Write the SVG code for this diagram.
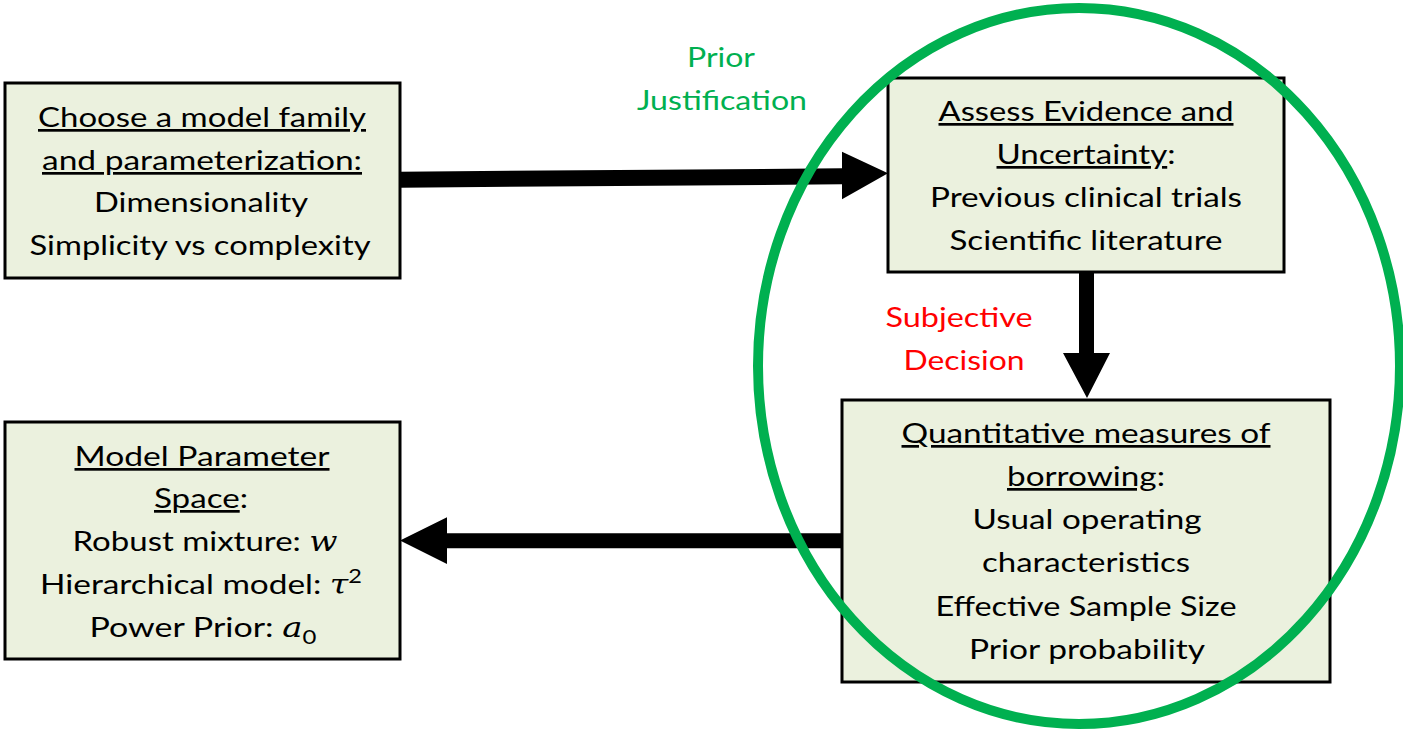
<svg xmlns="http://www.w3.org/2000/svg" width="1403" height="730" viewBox="0 0 1403 730">
<style>
.box{fill:#EBF1DE;stroke:#000;stroke-width:3}
.t{font-family:Lato,"Open Sans","Liberation Sans",sans-serif;font-size:27px;fill:#000;text-anchor:middle}
.u{text-decoration:underline}
.m{font-family:"DejaVu Serif","Liberation Serif",serif;font-style:italic}
.arr{fill:#000}
.g{fill:#00B050}
.r{fill:#FF0000}
</style>
<rect width="1403" height="730" fill="#fff"/>
<g id="connectors">
<polygon class="arr" points="400,171.7 842,168.3 842,151.7 888,173.3 842,199.3 842,184.3 400,187.7"/>
<polygon class="arr" points="1079,272 1094,272 1094,353 1110,353 1087,398 1063,353 1079,353"/>
<polygon class="arr" points="842,533.3 447,533.3 447,517.3 400,540.5 447,564 447,548.3 842,548.3"/>
</g>
<g id="node-choose">
<rect class="box" x="5" y="83" width="395" height="195"/>
<text class="t u" x="202" y="127" textLength="328" lengthAdjust="spacingAndGlyphs">Choose a model family</text>
<text class="t u" x="202" y="170" textLength="320" lengthAdjust="spacingAndGlyphs">and parameterization:</text>
<text class="t" x="201" y="212" textLength="214" lengthAdjust="spacingAndGlyphs">Dimensionality</text>
<text class="t" x="200" y="255" textLength="341" lengthAdjust="spacingAndGlyphs">Simplicity vs complexity</text>
</g>
<g id="node-assess">
<rect class="box" x="888" y="78" width="396" height="194"/>
<text class="t" x="1086" y="121" textLength="295" lengthAdjust="spacingAndGlyphs"><tspan class="u">Assess Evidence and</tspan></text>
<text class="t" x="1086" y="164" textLength="179" lengthAdjust="spacingAndGlyphs"><tspan class="u">Uncertainty</tspan>:</text>
<text class="t" x="1086" y="207" textLength="312" lengthAdjust="spacingAndGlyphs">Previous clinical trials</text>
<text class="t" x="1086" y="250" textLength="273" lengthAdjust="spacingAndGlyphs">Scientific literature</text>
</g>
<g id="node-quant">
<rect class="box" x="842" y="400" width="488" height="282"/>
<text class="t" x="1086" y="443" textLength="369" lengthAdjust="spacingAndGlyphs"><tspan class="u">Quantitative measures of</tspan></text>
<text class="t" x="1086" y="486" textLength="158" lengthAdjust="spacingAndGlyphs"><tspan class="u">borrowing</tspan>:</text>
<text class="t" x="1087" y="529" textLength="229" lengthAdjust="spacingAndGlyphs">Usual operating</text>
<text class="t" x="1086" y="572" textLength="208" lengthAdjust="spacingAndGlyphs">characteristics</text>
<text class="t" x="1086" y="616" textLength="301" lengthAdjust="spacingAndGlyphs">Effective Sample Size</text>
<text class="t" x="1087" y="659" textLength="236" lengthAdjust="spacingAndGlyphs">Prior probability</text>
</g>
<g id="node-param">
<rect class="box" x="5" y="422" width="395" height="237"/>
<text class="t" x="202" y="466" textLength="255" lengthAdjust="spacingAndGlyphs"><tspan class="u">Model Parameter</tspan></text>
<text class="t" x="201" y="508" textLength="94" lengthAdjust="spacingAndGlyphs"><tspan class="u">Space</tspan>:</text>
<text class="t" x="205" y="551" textLength="265" lengthAdjust="spacingAndGlyphs">Robust mixture: <tspan class="m">w</tspan></text>
<text class="t" x="201" y="594" textLength="322" lengthAdjust="spacingAndGlyphs">Hierarchical model: <tspan class="m">τ</tspan><tspan font-size="19" dy="-11">2</tspan></text>
<text class="t" x="203" y="637" textLength="227" lengthAdjust="spacingAndGlyphs">Power Prior: <tspan class="m">a</tspan><tspan font-size="19" dy="7">0</tspan></text>
</g>
<g id="label-prior">
<text class="t g" x="721" y="67" textLength="68" lengthAdjust="spacingAndGlyphs">Prior</text>
<text class="t g" x="722" y="110" textLength="170" lengthAdjust="spacingAndGlyphs">Justification</text>
</g>
<g id="label-subjective">
<text class="t r" x="959" y="327" textLength="147" lengthAdjust="spacingAndGlyphs">Subjective</text>
<text class="t r" x="964" y="370" textLength="121" lengthAdjust="spacingAndGlyphs">Decision</text>
</g>
<g id="ellipse">
<ellipse cx="1079" cy="366" rx="321" ry="358" fill="none" stroke="#00B050" stroke-width="10"/>
</g>
</svg>
